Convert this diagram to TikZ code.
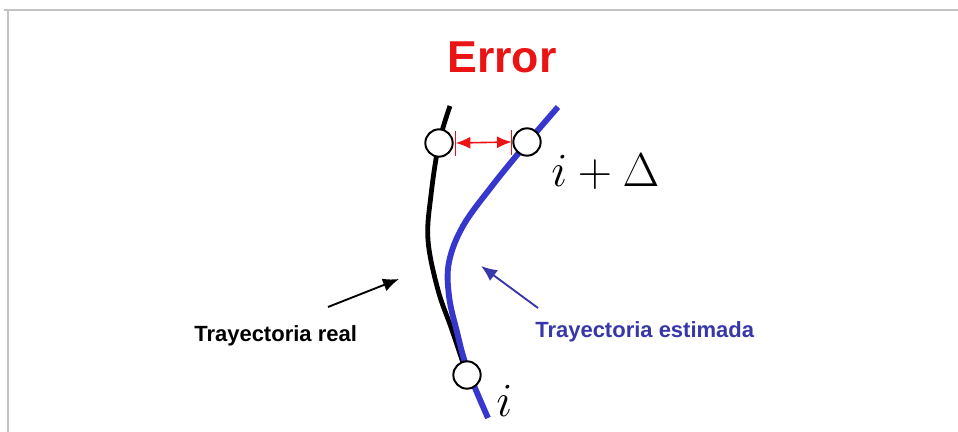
\documentclass[tikz,border=0pt]{standalone}
\usepackage{fontspec}
\newfontfamily\arialfont{Liberation Sans}
\usetikzlibrary{arrows.meta}
\definecolor{errred}{RGB}{235,20,20}
\definecolor{curveblue}{RGB}{55,55,205}
\definecolor{labelblue}{RGB}{55,55,170}
\definecolor{framegray}{RGB}{195,195,195}
\begin{document}
\begin{tikzpicture}[x=0.75pt,y=-0.75pt,
  pt/.style={circle,draw=black,fill=white,line width=1.5pt,minimum size=20.5pt,inner sep=0pt},
  realcurve/.style={line width=3.6pt,black},
  estcurve/.style={line width=4.4pt,curveblue},
  redline/.style={errred,line width=1.2pt},
  lbl/.style={font=\arialfont\bfseries\fontsize{16.5}{18}\selectfont,inner sep=0pt},
  mathlbl/.style={font=\fontsize{20}{24}\selectfont,inner sep=0pt,scale=1.72,transform shape}]
\useasboundingbox (0,0) rectangle (958,432);
\fill[white] (0,0) rectangle (958,432);
% frame
\draw[framegray,line width=1.5pt] (4,10) -- (958,10);
\draw[framegray,line width=1.5pt] (8,10) -- (8,432);
% title
\node[font=\arialfont\bfseries\fontsize{33.5}{38}\selectfont,text=errred,anchor=base,inner sep=0pt] (title) at (502,72) {Error};
% curves
\draw[realcurve] plot[smooth,tension=0.6] coordinates {(450,106) (439,143) (431,195) (428,240) (438,290) (452,330) (466,372)};
\draw[estcurve] plot[smooth,tension=0.6] coordinates {(558,107) (527,143) (492,186) (463,226) (449,262) (449,296) (457,332) (467,368) (488,418)};
% points
\node[pt] (p1) at (439,143) {};
\node[pt] (p2) at (527,142) {};
\node[pt] (p3) at (467,375) {};
% red error arrow
\coordinate (ra) at ([xshift=1.5pt]p1.east);
\coordinate (rb) at ([xshift=-0.5pt]p2.west);
\draw[redline] (ra) ++(0,-12) -- ++(0,25);
\draw[redline] (rb) ++(0,-12) -- ++(0,25);
\draw[redline,{Latex[length=11pt,width=9pt]}-{Latex[length=11pt,width=9pt]}] (ra) -- (rb);
% math labels
\node[mathlbl,anchor=base west] (ldelta) at (551,186) {$i+\Delta$};
\node[mathlbl,anchor=base west] (li) at (496,416) {$i$};
% text labels
\node[lbl,anchor=base west] (treal) at (194,341) {Trayectoria real};
\node[lbl,anchor=base west,text=labelblue] (test) at (535,337) {Trayectoria estimada};
% pointer arrows
\coordinate (a1s) at (328,307);
\coordinate (a1e) at (399,279);
\coordinate (a2s) at (538,308);
\coordinate (a2e) at (481,266);
\draw[black,line width=1.4pt,-{Latex[length=12pt,width=10pt]}] (a1s) -- (a1e);
\draw[labelblue,line width=1.4pt,-{Latex[length=12pt,width=10pt]}] (a2s) -- (a2e);
\end{tikzpicture}
\end{document}
